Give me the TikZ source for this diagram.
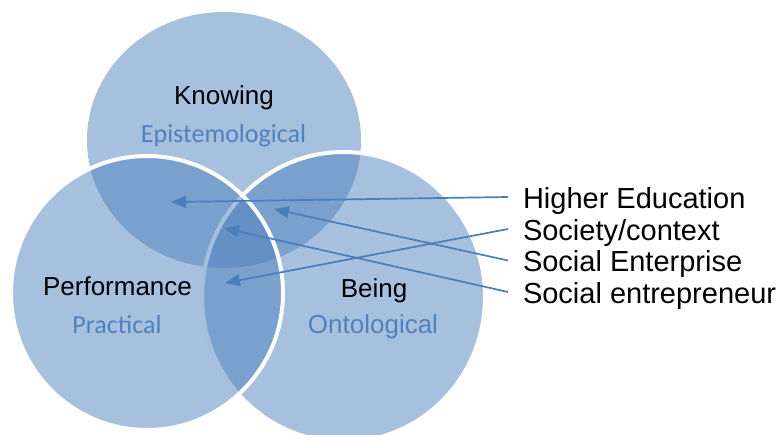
\documentclass[tikz,border=0pt]{standalone}
\usepackage{fontspec}
\setmainfont{Liberation Sans}
\newfontfamily\calibri{Carlito}
\usetikzlibrary{arrows.meta}
\definecolor{vennblue}{HTML}{4F81BD}
\definecolor{linkblue}{HTML}{4A7EBB}

\begin{document}
\begin{tikzpicture}[x=1pt,y=-1pt,
    set/.style={fill=vennblue,fill opacity=0.5},
    rim/.style={draw=white,line width=4pt},
    head/.style={font=\fontsize{26}{30}\selectfont,anchor=base,inner sep=0},
    sub/.style={head,text=vennblue},
    item/.style={font=\fontsize{29}{32}\selectfont,anchor=base west,inner xsep=15pt,inner ysep=0,
      text height=22pt,text depth=0pt,outer sep=0},
    link/.style={draw=linkblue,line width=1.7pt,-{Triangle[length=15pt,width=12pt]}}]
  \useasboundingbox (0,0) rectangle (781,434);
  \path[set] (224,140) ellipse [x radius=137,y radius=128];
  \path[set,rim] (343.5,297) ellipse [x radius=141.5,y radius=145];
  \path[set,rim] (147,293) ellipse [x radius=136,y radius=137];
  \node[head] (know) at (224,104.5) {Knowing};
  \node[sub] (epi) at (223.5,142.5) {\calibri Epistemological};
  \node[head] (perf) at (117.5,295) {Performance};
  \node[sub] (prac) at (117,333) {\calibri Practical};
  \node[head] (being) at (374,297) {Being};
  \node[sub] (onto) at (373,333) {Ontological};
  \node[item] (he) at (508,208) {Higher Education};
  \node[item] (soc) at (508,240) {Society/context};
  \node[item] (se) at (508,271.5) {Social Enterprise};
  \node[item] (sen) at (508,303) {Social entrepreneur};
  \coordinate (heTip) at (171,202);
  \coordinate (socTip) at (225,283);
  \coordinate (seTip) at (274,209);
  \coordinate (senTip) at (224,228);
  \draw[link] (he.west) -- (heTip);
  \draw[link] (soc.west) -- (socTip);
  \draw[link] (se.west) -- (seTip);
  \draw[link] (sen.west) -- (senTip);
\end{tikzpicture}
\end{document}
